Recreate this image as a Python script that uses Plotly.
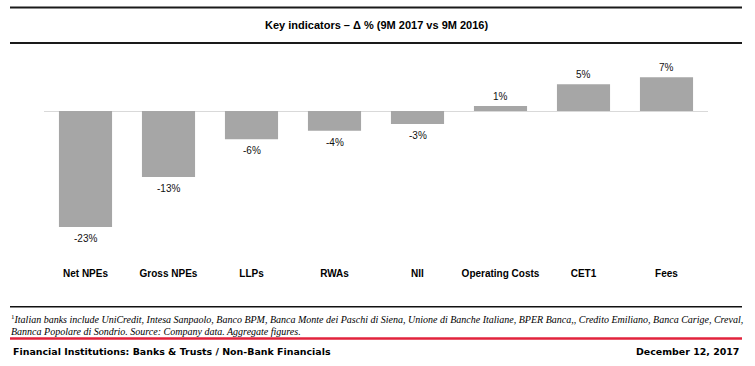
import plotly.graph_objects as go

categories = ["Net NPEs", "Gross NPEs", "LLPs", "RWAs", "NII", "Operating Costs", "CET1", "Fees"]
values = [-23.0, -13.1, -5.6, -3.9, -2.6, 1.0, 5.3, 6.7]
title_text = "Key indicators – Δ % (9M 2017 vs 9M 2016)"
footnote_1 = ("<sup>1</sup><i>Italian banks include UniCredit, Intesa Sanpaolo, Banco BPM, Banca Monte dei Paschi di Siena, "
              "Unione di Banche Italiane, BPER Banca,, Credito Emiliano, Banca Carige, Creval,</i>")
footnote_2 = "<i>Bannca Popolare di Sondrio. Source: Company data. Aggregate figures.</i>"
footer_left = "Financial Institutions: Banks &amp; Trusts / Non-Bank Financials"
footer_right = "December 12, 2017"

W, H = 755, 366
L, R = 44, 708
T, B = 45, 262
PW, PH = R - L, B - T
ZERO_Y = 111
SCALE = 5.043  # px per %


def px(x):
    return (x - L) / PW


def py(y):
    return (B - y) / PH


fig = go.Figure()
fig.add_trace(go.Bar(
    x=categories, y=values,
    marker=dict(color="#a6a6a6", line=dict(width=0)),
    hoverinfo="skip",
))

annotations = []
for c, v in zip(categories, values):
    annotations.append(dict(
        x=c, y=v, xref="x", yref="y", text=f"{round(v):.0f}%",
        showarrow=False, yanchor="middle", xanchor="center",
        yshift=(9.3 if v >= 0 else -11.5),
        font=dict(family="Liberation Sans, Arial", size=10, color="#111"),
    ))

annotations += [
    dict(x=px(376), y=py(25), xref="paper", yref="paper", text=f"<b>{title_text}</b>",
         showarrow=False, xanchor="center", yanchor="middle",
         font=dict(family="Liberation Sans, Arial", size=11, color="#000")),
    dict(x=px(9), y=py(318.5), xref="paper", yref="paper", text=footnote_1,
         showarrow=False, xanchor="left", yanchor="middle",
         font=dict(family="Liberation Serif, Times New Roman", size=10, color="#000")),
    dict(x=px(9), y=py(331), xref="paper", yref="paper", text=footnote_2,
         showarrow=False, xanchor="left", yanchor="middle",
         font=dict(family="Liberation Serif, Times New Roman", size=10, color="#000")),
    dict(x=px(11), y=py(351.5), xref="paper", yref="paper", text=f"<b>{footer_left}</b>",
         showarrow=False, xanchor="left", yanchor="middle",
         font=dict(family="DejaVu Sans", size=9.45, color="#000")),
    dict(x=px(741), y=py(351.5), xref="paper", yref="paper", text=f"<b>{footer_right}</b>",
         showarrow=False, xanchor="right", yanchor="middle",
         font=dict(family="DejaVu Sans", size=9.45, color="#000")),
]

shapes = [
    dict(type="line", xref="paper", yref="paper", x0=px(10), x1=px(742), y0=py(7.5), y1=py(7.5),
         line=dict(color="#1a1a1a", width=2)),
    dict(type="line", xref="paper", yref="paper", x0=px(10), x1=px(742), y0=py(43), y1=py(43),
         line=dict(color="#1a1a1a", width=2)),
    dict(type="line", xref="paper", yref="paper", x0=px(10), x1=px(742), y0=py(306.7), y1=py(306.7),
         line=dict(color="#111", width=1.5)),
    dict(type="line", xref="paper", yref="paper", x0=px(10), x1=px(742), y0=py(338.5), y1=py(338.5),
         line=dict(color="#e2233c", width=2.5)),
]

fig.update_layout(
    width=W, height=H,
    margin=dict(l=L, r=W - R, t=T, b=H - B, pad=0),
    paper_bgcolor="white", plot_bgcolor="white",
    showlegend=False, bargap=0.36,
    annotations=annotations, shapes=shapes,
    xaxis=dict(showgrid=False, showline=False, ticks="", fixedrange=True,
               tickfont=dict(family="Liberation Sans, Arial", size=10, color="#000"),
               ticklabelstandoff=4),
    yaxis=dict(range=[-(B - ZERO_Y) / SCALE, (ZERO_Y - T) / SCALE], showgrid=False,
               showticklabels=False, ticks="", zeroline=True, zerolinecolor="#d9d9d9",
               zerolinewidth=1, fixedrange=True),
)
fig.update_xaxes(tickprefix="<b>", ticksuffix="</b>")

fig.write_html("out.html", config={"displayModeBar": False},
               post_script="document.body.style.margin='0';document.body.style.overflow='hidden';")
